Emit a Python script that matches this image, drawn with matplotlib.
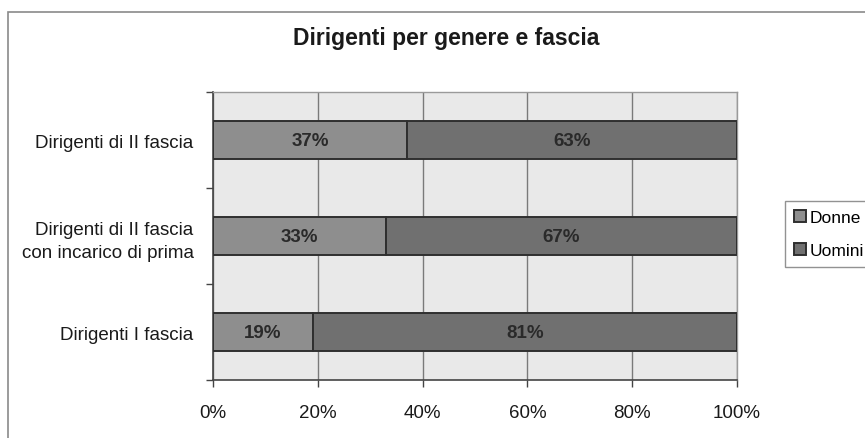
import numpy as np
import matplotlib.pyplot as plt
from matplotlib.patches import Rectangle

plt.rcParams["font.family"] = ["Liberation Sans", "DejaVu Sans"]

categories = ["Dirigenti I fascia", "Dirigenti di II fascia\ncon incarico di prima", "Dirigenti di II fascia"]
donne = [19, 33, 37]
uomini = [81, 67, 63]
x_ticks = [0, 20, 40, 60, 80, 100]

fig = plt.figure(figsize=(8.65, 4.39), dpi=100)
fig.patch.set_facecolor("white")

# outer chart frame (runs off the right and bottom edges)
fig.patches.append(Rectangle((8 / 865, -0.05), 1.0, 1 - 13 / 439 + 0.05,
                             transform=fig.transFigure, fill=False,
                             edgecolor="#8a8a8a", linewidth=1.2))

ax = fig.add_axes([213 / 865, 1 - 381 / 439, (737 - 213) / 865, (381 - 93) / 439])
ax.set_facecolor("#e9e9e9")

y = np.arange(len(categories))
h = 0.4
ax.barh(y, donne, height=h, color="#8e8e8e", edgecolor="#2f2f2f", linewidth=1.4, label="Donne", zorder=3)
ax.barh(y, uomini, left=donne, height=h, color="#707070", edgecolor="#2f2f2f", linewidth=1.4, label="Uomini", zorder=3)

for i in range(len(categories)):
    ax.text(donne[i] / 2, y[i], f"{donne[i]}%", ha="center", va="center",
            fontsize=13.5, fontweight="bold", color="#2a2a2a", zorder=4)
    ax.text(donne[i] + uomini[i] / 2, y[i], f"{uomini[i]}%", ha="center", va="center",
            fontsize=13.5, fontweight="bold", color="#2a2a2a", zorder=4)

ax.set_xlim(0, 100)
ax.set_ylim(-0.5, len(categories) - 0.5)
ax.set_xticks(x_ticks)
ax.set_xticklabels([f"{t}%" for t in x_ticks], fontsize=13.5, color="#1a1a1a")
ax.xaxis.grid(True, color="#7a7a7a", linewidth=1.0, zorder=1)
ax.set_axisbelow(True)

ax.set_yticks(y)
ax.set_yticklabels(categories, fontsize=13.5, linespacing=1.5, color="#1a1a1a")
ax.set_yticks(np.arange(-0.5, len(categories)), minor=True)
ax.tick_params(axis="y", which="major", length=0, pad=14)
ax.tick_params(axis="y", which="minor", length=5, width=1, color="#444444", direction="out")
ax.tick_params(axis="x", length=5, width=1, color="#444444", direction="out", pad=12)

for s in ["left", "bottom"]:
    ax.spines[s].set_color("#444444")
    ax.spines[s].set_linewidth(1.2)
for s in ["top", "right"]:
    ax.spines[s].set_color("#9a9a9a")
    ax.spines[s].set_linewidth(1.0)

fig.text(446 / 865, 1 - 38 / 439, "Dirigenti per genere e fascia", ha="center", va="center",
         fontsize=16.5, fontweight="bold", color="#1a1a1a")

leg = fig.legend(loc="upper left", bbox_to_anchor=(785 / 865, 1 - 202 / 439),
                 fontsize=12.5, frameon=True, fancybox=False, edgecolor="#777777",
                 handlelength=0.7, handleheight=0.7, handletextpad=0.2,
                 borderpad=0.5, labelspacing=1.05, borderaxespad=0)
leg.get_frame().set_linewidth(1.0)

fig.savefig("out.png", dpi=100)
